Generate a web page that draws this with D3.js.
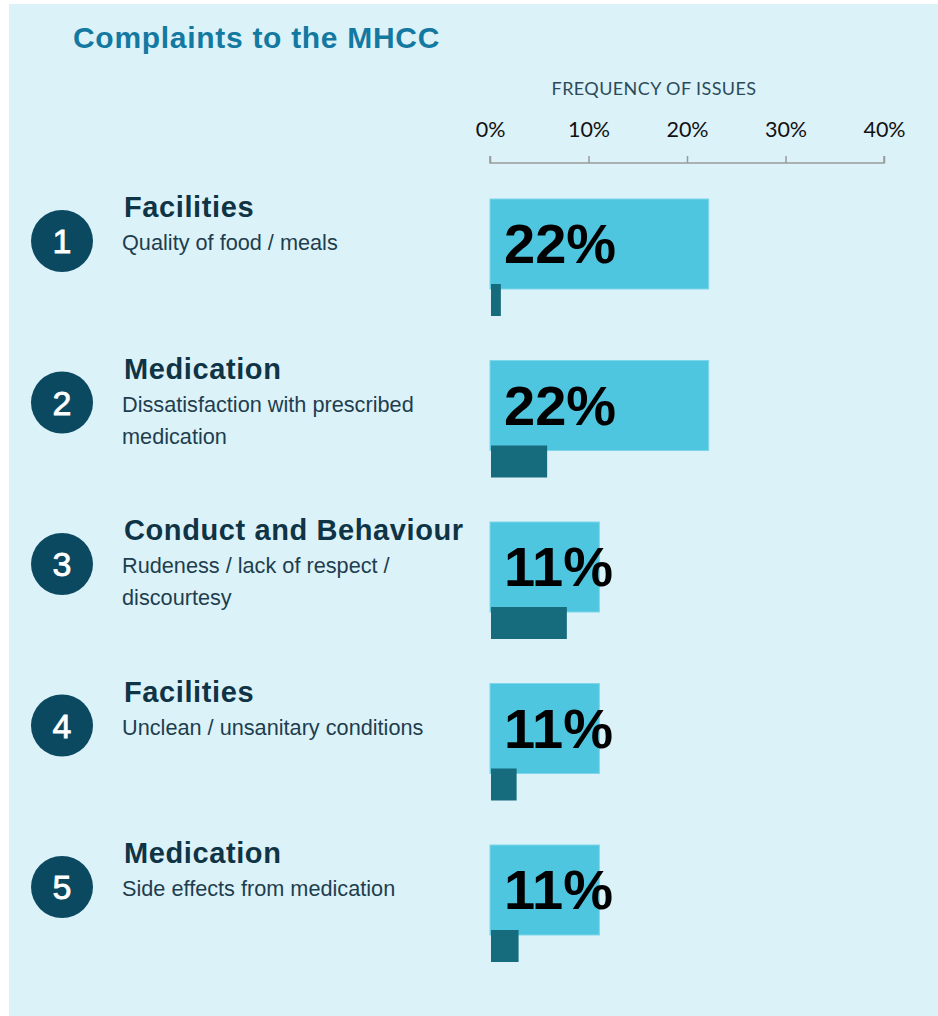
<!DOCTYPE html>
<html>
<head>
<meta charset="utf-8">
<script src="https://cdn.jsdelivr.net/npm/d3@7"></script>
<style>
  body { margin: 0; background: #fff; }
</style>
</head>
<body>
<div id="chart"></div>
<script>
// chart data
var ranks = [1, 2, 3, 4, 5];
var categories = ["Facilities", "Medication", "Conduct and Behaviour", "Facilities", "Medication"];
var issues = [
  ["Quality of food / meals"],
  ["Dissatisfaction with prescribed", "medication"],
  ["Rudeness / lack of respect /", "discourtesy"],
  ["Unclean / unsanitary conditions"],
  ["Side effects from medication"]
];
var frequency = [22.2, 22.2, 11.1, 11.1, 11.1];      // light bars
var secondary = [1.0, 5.7, 7.7, 2.6, 2.8];           // dark bars
var ticks = [0, 10, 20, 30, 40];

var W = 938, H = 1016;

var svg = d3.select("#chart")
  .append("svg")
    .attr("width", W)
    .attr("height", H);

// panel background
svg.append("rect")
  .attr("x", 9).attr("y", 4)
  .attr("width", W - 9).attr("height", H - 4)
  .attr("fill", "#dcf2f9");

// title
svg.append("text")
  .attr("x", 73).attr("y", 48)
  .style("font-family", "Liberation Sans, Arial, sans-serif")
  .style("font-weight", "bold")
  .style("font-size", "30px")
  .style("letter-spacing", "0.7px")
  .attr("fill", "#1479a1")
  .text("Complaints to the MHCC");

// scales
var x = d3.scaleLinear().domain([0, 40]).range([490, 884]);
var y = d3.scaleBand().domain(ranks).range([199, 199 + 161.5 * 5]);

// axis
var axis = svg.append("g")
  .attr("transform", "translate(0,163)")
  .call(d3.axisTop(x).tickValues(ticks).tickSize(7).tickFormat(function(d) { return d + "%"; }));
axis.select(".domain").attr("stroke", "#9a9a9a").attr("stroke-width", 1.5)
  .attr("d", "M" + x(0) + ",-7V0H" + x(40) + "V-7");
axis.selectAll(".tick line").attr("stroke", "#9a9a9a").attr("stroke-width", 1.5);
axis.selectAll(".tick text")
  .attr("y", -26)
  .style("font-family", "Lato, 'Open Sans', sans-serif")
  .style("font-size", "21.5px")
  .attr("fill", "#111");

svg.append("text")
  .attr("x", 654).attr("y", 95)
  .attr("text-anchor", "middle")
  .style("font-family", "Lato, 'Open Sans', sans-serif")
  .style("font-size", "18px")
  .style("letter-spacing", "0.4px")
  .attr("fill", "#2b4b5a")
  .text("FREQUENCY OF ISSUES");

// rows
var rows = svg.selectAll(".row")
  .data(ranks)
  .enter()
  .append("g")
    .attr("class", "row");

rows.append("circle")
  .attr("cx", 62)
  .attr("cy", function(d) { return y(d) + 42; })
  .attr("r", 31)
  .attr("fill", "#0b4961");

rows.append("text")
  .attr("x", 62)
  .attr("y", function(d) { return y(d) + 54; })
  .attr("text-anchor", "middle")
  .style("font-family", "Liberation Sans, Arial, sans-serif")
  .style("font-size", "34px")
  .attr("fill", "#fff")
  .attr("stroke", "#fff")
  .attr("stroke-width", 0.8)
  .text(function(d) { return d; });

rows.append("text")
  .attr("x", 124)
  .attr("y", function(d) { return y(d) + 18; })
  .style("font-family", "Liberation Sans, Arial, sans-serif")
  .style("font-weight", "bold")
  .style("font-size", "29px")
  .style("letter-spacing", "0.6px")
  .attr("fill", "#0f3445")
  .text(function(d, i) { return categories[i]; });

rows.append("text")
  .attr("y", function(d) { return y(d) + 51; })
  .style("font-family", "Liberation Sans, Arial, sans-serif")
  .style("font-size", "21.7px")
  .attr("fill", "#1e3e4e")
  .selectAll("tspan")
  .data(function(d, i) { return issues[i]; })
  .enter()
  .append("tspan")
    .attr("x", 122)
    .attr("dy", function(d, j) { return j ? 32 : 0; })
    .text(function(d) { return d; });

// light bars
rows.append("rect")
  .attr("x", x(0))
  .attr("y", function(d) { return y(d); })
  .attr("width", function(d, i) { return x(frequency[i]) - x(0); })
  .attr("height", 90)
  .attr("fill", "#4fc6df")
  .attr("stroke", "#7dd6ea")
  .attr("stroke-width", 1);

// dark bars
rows.append("rect")
  .attr("x", x(0) + 1)
  .attr("y", function(d) { return y(d) + 85; })
  .attr("width", function(d, i) { return x(secondary[i]) - x(0); })
  .attr("height", 32)
  .attr("fill", "#166b7c");

// value labels
rows.append("text")
  .attr("x", 504)
  .attr("y", function(d) { return y(d) + 64; })
  .style("font-family", "Liberation Sans, Arial, sans-serif")
  .style("font-weight", "bold")
  .style("font-size", "56px")
  .attr("fill", "#000")
  .text(function(d, i) { return Math.round(frequency[i]) + "%"; });
</script>
</body>
</html>
